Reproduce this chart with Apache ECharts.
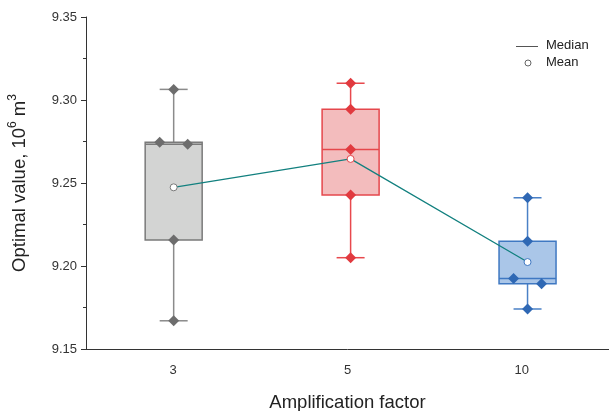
<!DOCTYPE html>
<html>
<head>
<meta charset="utf-8">
<script src="https://cdn.jsdelivr.net/npm/echarts@6/dist/echarts.min.js"></script>
<style>
  html, body { margin: 0; padding: 0; background: #fff; }
  #chart { width: 609px; height: 411px; }
</style>
</head>
<body>
<div id="chart"></div>
<script>
// Amplification factors on the x axis
const categories = ['3', '5', '10'];
// Optimal values (10^6 m^3) of the five runs per factor
const valuesFactor3 = [9.3064, 9.2746, 9.2733, 9.2157, 9.1670];
const valuesFactor5 = [9.3101, 9.2944, 9.2702, 9.2428, 9.2050];
const valuesFactor10 = [9.2411, 9.2149, 9.1925, 9.1893, 9.1741];
// y axis ticks
const yTicks = [9.15, 9.20, 9.25, 9.30, 9.35];

const groups = [valuesFactor3, valuesFactor5, valuesFactor10];

const palette = [
  { fill: '#d3d4d3', stroke: '#7a7a7a', whisker: '#8b8b8b', dot: '#6d6d6d' },
  { fill: '#f3bcbd', stroke: '#e5474c', whisker: '#e8494d', dot: '#e13a3f' },
  { fill: '#aac6e8', stroke: '#3f78c2', whisker: '#4a80c6', dot: '#2f68b4' }
];

function stats(vals) {
  const s = vals.slice().sort((a, b) => a - b);
  const mean = s.reduce((a, b) => a + b, 0) / s.length;
  return { min: s[0], q1: s[1], med: s[2], q3: s[3], max: s[4], mean: mean };
}
const groupStats = groups.map(stats);

const BOX_HALF = 28.5;
const CAP_HALF = 14;
const SPREAD = 14;

function diamondPath(cx, cy, w, h) {
  return 'M' + cx + ',' + (cy - h / 2) + 'L' + (cx + w / 2) + ',' + cy +
         'L' + cx + ',' + (cy + h / 2) + 'L' + (cx - w / 2) + ',' + cy + 'Z';
}

function renderBox(params, api) {
  const i = params.dataIndex;
  const st = groupStats[i];
  const col = palette[i];
  const cx = api.coord([i, st.med])[0];
  const y = v => api.coord([i, v])[1];
  const children = [];
  // whiskers and caps
  const wStyle = { stroke: col.whisker, lineWidth: 1.5 };
  children.push({ type: 'line', shape: { x1: cx, y1: y(st.max), x2: cx, y2: y(st.q3) }, style: wStyle });
  children.push({ type: 'line', shape: { x1: cx, y1: y(st.q1), x2: cx, y2: y(st.min) }, style: wStyle });
  children.push({ type: 'line', shape: { x1: cx - CAP_HALF, y1: y(st.max), x2: cx + CAP_HALF, y2: y(st.max) }, style: wStyle });
  children.push({ type: 'line', shape: { x1: cx - CAP_HALF, y1: y(st.min), x2: cx + CAP_HALF, y2: y(st.min) }, style: wStyle });
  // box
  children.push({ type: 'rect', shape: { x: cx - BOX_HALF, y: y(st.q3), width: BOX_HALF * 2, height: y(st.q1) - y(st.q3) },
    style: { fill: col.fill, stroke: col.stroke, lineWidth: 1.5 } });
  // median
  children.push({ type: 'line', shape: { x1: cx - BOX_HALF, y1: y(st.med), x2: cx + BOX_HALF, y2: y(st.med) }, style: { stroke: col.stroke, lineWidth: 1.5 } });
  // individual runs; near-equal neighbours are spread sideways
  const s = groups[i].slice().sort((a, b) => b - a);
  const shift = s.map(() => 0);
  for (let k = 0; k < s.length - 1; k++) {
    if (s[k] - s[k + 1] < 0.004 && shift[k] === 0 && shift[k + 1] === 0) {
      shift[k] = -SPREAD; shift[k + 1] = SPREAD;
    }
  }
  s.forEach((v, k) => {
    children.push({ type: 'path', shape: { pathData: diamondPath(cx + shift[k], y(v), 11, 11) },
      style: { fill: col.dot, stroke: null } });
  });
  return { type: 'group', children: children };
}

const chart = echarts.init(document.getElementById('chart'), null, { renderer: 'canvas' });

const font = 'Liberation Sans, Arial, sans-serif';

chart.setOption({
  animation: false,
  backgroundColor: '#ffffff',
  grid: { left: 86, right: 0, top: 17, bottom: 62, containLabel: false, outerBoundsMode: 'none' },
  xAxis: [
    {
      type: 'category',
      data: categories,
      boundaryGap: true,
      name: 'Amplification factor',
      nameLocation: 'middle',
      nameGap: 44,
      nameTextStyle: { fontFamily: font, fontSize: 18.5, color: '#222' },
      axisLine: { lineStyle: { color: '#333', width: 1 } },
      axisTick: { alignWithLabel: true, length: 5, lineStyle: { color: '#333' } },
      axisLabel: { margin: 15, fontFamily: font, fontSize: 13, color: '#333' },
      splitLine: { show: false }
    },
    {
      type: 'value',
      show: false,
      min: -0.4955,
      max: 2.4604
    }
  ],
  yAxis: {
    type: 'value',
    min: yTicks[0],
    max: yTicks[yTicks.length - 1],
    interval: 0.05,
    name: '{a|Optimal value, 10}{s|6}{a| m}{s|3}',
    nameLocation: 'middle',
    nameGap: 57,
    nameRotate: 90,
    nameTextStyle: {
      fontFamily: font, color: '#222',
      rich: {
        a: { fontFamily: font, fontSize: 18.5, color: '#222', lineHeight: 22, verticalAlign: 'bottom' },
        s: { fontFamily: font, fontSize: 12, color: '#222', lineHeight: 22, verticalAlign: 'top', padding: [0, 0, 9, 0] }
      }
    },
    axisLine: { show: true, onZero: false, lineStyle: { color: '#333', width: 1 } },
    axisTick: { show: true, length: 5, lineStyle: { color: '#333' } },
    minorTick: { show: true, splitNumber: 2, length: 3, lineStyle: { color: '#333' } },
    axisLabel: { margin: 9, fontFamily: font, fontSize: 13, color: '#333', formatter: v => v.toFixed(2) },
    splitLine: { show: false }
  },
  series: [
    {
      type: 'custom',
      xAxisIndex: 1,
      yAxisIndex: 0,
      renderItem: renderBox,
      data: groups.map((g, i) => [i, groupStats[i].med]),
      z: 2
    },
    {
      name: 'Mean',
      type: 'line',
      xAxisIndex: 1,
      yAxisIndex: 0,
      data: groupStats.map((st, i) => ({
        value: [i, st.mean],
        itemStyle: { color: '#ffffff', borderColor: palette[i].stroke, borderWidth: 1 }
      })),
      lineStyle: { color: '#12807f', width: 1.3 },
      symbol: 'circle',
      symbolSize: 7,
      showSymbol: true,
      z: 5
    }
  ],
  graphic: [
    { type: 'line', shape: { x1: 516, y1: 46.5, x2: 538, y2: 46.5 }, style: { stroke: '#555', lineWidth: 1 } },
    { type: 'text', left: 546, top: 39, style: { text: 'Median', fontFamily: font, fontSize: 13, fill: '#222' } },
    { type: 'circle', shape: { cx: 528, cy: 63, r: 3 }, style: { fill: '#fff', stroke: '#666', lineWidth: 1 } },
    { type: 'text', left: 546, top: 56, style: { text: 'Mean', fontFamily: font, fontSize: 13, fill: '#222' } }
  ]
});
</script>
</body>
</html>
